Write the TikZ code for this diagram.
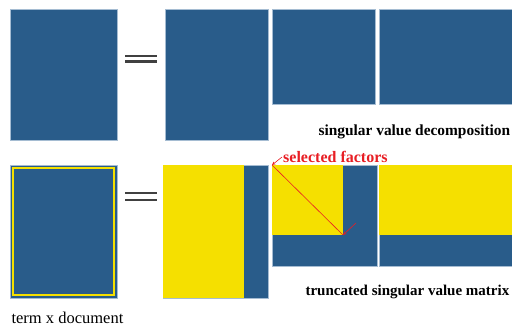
\documentclass[tikz,border=0pt]{standalone}
\usepackage{fontspec}
\setmainfont{Liberation Serif}
\usetikzlibrary{calc}
\definecolor{matblue}{RGB}{41,92,138}
\definecolor{matedge}{RGB}{165,188,210}
\definecolor{matyellow}{RGB}{245,224,0}
\definecolor{selred}{RGB}{232,30,36}

\begin{document}
\begin{tikzpicture}[x=1pt, y=-1pt]
			%%%%% START %%%%%
			\useasboundingbox (0, 0) rectangle (512, 326);
			
			% top row: full decomposition
			\draw[draw=matedge, line width=0.6pt, fill=matblue] (10, 9) rectangle (117, 140);
			\draw[line width=2.2pt, color=black!75] (125, 56) -- (157, 56);
			\draw[line width=2.2pt, color=black!75] (125, 61.5) -- (157, 61.5);
			\draw[draw=matedge, line width=0.6pt, fill=matblue] (165, 9) rectangle (268, 140);
			\draw[draw=matedge, line width=0.6pt, fill=matblue] (272, 9) rectangle (375, 104);
			\draw[draw=matedge, line width=0.6pt, fill=matblue] (379, 9) rectangle (530, 104);
			\node[anchor=west, font=\bfseries\fontsize{15.4}{18}\selectfont] (svd) at (315, 132) {singular value decomposition};
			
			% bottom row: truncated decomposition
			\draw[draw=matedge, line width=0.6pt, fill=matblue] (10, 165) rectangle (117, 298);
			\draw[draw=matyellow, line width=1.4pt] (13, 168) rectangle (114, 295);
			\draw[line width=2.2pt, color=black!75] (125, 193) -- (157, 193);
			\draw[line width=2.2pt, color=black!75] (125, 200) -- (157, 200);
			
			\draw[draw=matedge, line width=0.6pt, fill=matblue] (163, 165) rectangle (268, 298);
			\fill[matyellow] (163, 165) rectangle (244, 298);
			
			\draw[draw=matedge, line width=0.6pt, fill=matblue] (272, 165) rectangle (377, 266);
			\fill[matyellow] (272, 165) rectangle (343, 235);
			
			\draw[draw=matedge, line width=0.6pt, fill=matblue] (379, 165) rectangle (530, 266);
			\fill[matyellow] (379, 165) rectangle (530, 235);
			
			\coordinate (cornerA) at (272, 165);
			\coordinate (cornerB) at (343, 235);
			\coordinate (stub) at (356, 223);
			\node[anchor=west, inner sep=1pt, text=selred, font=\bfseries\fontsize{16}{18}\selectfont] (sel) at (282, 157) {selected factors};
			\draw[->, >=stealth, color=selred, line width=0.6pt] (sel.west) -- (cornerA);
			\draw[color=selred, line width=0.6pt] (cornerA) -- (cornerB);
			\draw[->, >=stealth, color=selred, line width=0.6pt] (stub) -- (cornerB);
			
			\node[anchor=west, font=\bfseries\fontsize{15}{18}\selectfont] (tsvm) at (302, 292) {truncated singular value matrix};
			\node[anchor=west, font=\fontsize{16.5}{19}\selectfont] (term) at (8, 318) {term x document};
			%%%%% END %%%%%
\end{tikzpicture}
\end{document}
